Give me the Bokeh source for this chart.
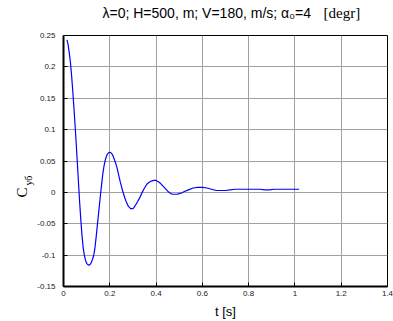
from bokeh.plotting import figure
from bokeh.models import Title, FixedTicker, Range1d
from bokeh.embed import file_html
from bokeh.resources import INLINE

# ---- data ----
t = [0.015, 0.020, 0.025, 0.030, 0.035, 0.040, 0.045, 0.050, 0.055, 0.060,
     0.065, 0.070, 0.075, 0.080, 0.085, 0.090, 0.095, 0.100, 0.105, 0.110,
     0.115, 0.120, 0.125, 0.130, 0.135, 0.140, 0.145, 0.150, 0.155, 0.160,
     0.165, 0.170, 0.175, 0.180, 0.185, 0.190, 0.195, 0.200, 0.205, 0.210,
     0.215, 0.220, 0.225, 0.230, 0.235, 0.240, 0.245, 0.250, 0.255, 0.260,
     0.265, 0.270, 0.275, 0.280, 0.285, 0.290, 0.295, 0.300, 0.305, 0.310,
     0.320, 0.330, 0.340, 0.350, 0.360, 0.370, 0.380, 0.390, 0.400, 0.410,
     0.420, 0.430, 0.440, 0.450, 0.460, 0.470, 0.480, 0.490, 0.500, 0.510,
     0.520, 0.540, 0.560, 0.580, 0.600, 0.620, 0.640, 0.660, 0.680, 0.700,
     0.720, 0.740, 0.780, 0.820, 0.850, 0.870, 0.890, 0.910, 0.950, 1.000,
     1.018]
cy = [0.243, 0.235, 0.222, 0.207, 0.186, 0.162, 0.135, 0.107, 0.077, 0.046,
      0.014, -0.017, -0.045, -0.069, -0.088, -0.100, -0.108, -0.113, -0.115, -0.116,
      -0.115, -0.112, -0.107, -0.101, -0.091, -0.075, -0.057, -0.039, -0.021, -0.003,
      0.014, 0.030, 0.042, 0.051, 0.057, 0.061, 0.063, 0.064, 0.063, 0.061,
      0.057, 0.052, 0.047, 0.041, 0.033, 0.025, 0.017, 0.010, 0.003, -0.003,
      -0.009, -0.014, -0.018, -0.022, -0.024, -0.026, -0.026, -0.026, -0.024, -0.021,
      -0.015, -0.008, 0.000, 0.007, 0.013, 0.016, 0.018, 0.019, 0.019, 0.017,
      0.014, 0.010, 0.006, 0.002, -0.001, -0.003, -0.003, -0.003, -0.002, -0.001,
      0.001, 0.004, 0.007, 0.008, 0.008, 0.007, 0.005, 0.003, 0.003, 0.003,
      0.004, 0.005, 0.005, 0.005, 0.005, 0.004, 0.004, 0.005, 0.005, 0.005,
      0.005]

x_ticks = [0, 0.2, 0.4, 0.6, 0.8, 1, 1.2, 1.4]
x_tick_labels = ["0", "0.2", "0.4", "0.6", "0.8", "1", "1.2", "1.4"]
y_ticks = [-0.15, -0.1, -0.05, 0, 0.05, 0.1, 0.15, 0.2, 0.25]
y_tick_labels = ["-0.15", "-0.1", "-0.05", "0", "0.05", "0.1", "0.15", "0.2", "0.25"]

title_main = "λ=0; H=500, m; V=180, m/s; α₀=4"
title_unit = "[degr]"
x_label = "t [s]"
y_label_main = "C"
y_label_sub = "уб"

SANS = "Liberation Sans"
SERIF = "Liberation Serif"

p = figure(width=393, height=321, output_backend="svg", toolbar_location=None,
           x_range=Range1d(0, 1.4), y_range=Range1d(-0.15, 0.25),
           min_border_left=63, min_border_right=6, min_border_top=35,
           min_border_bottom=34)
p.background_fill_color = "white"
p.border_fill_color = "white"
p.outline_line_color = "black"
p.outline_line_width = 1

p.line(t, cy, line_color="#0000ff", line_width=1.2)

p.xaxis.ticker = FixedTicker(ticks=x_ticks)
p.yaxis.ticker = FixedTicker(ticks=y_ticks)
p.xaxis.major_label_overrides = dict(zip(x_ticks, x_tick_labels))
p.yaxis.major_label_overrides = dict(zip(y_ticks, y_tick_labels))
for ax in (p.xaxis[0], p.yaxis[0]):
    ax.axis_line_color = "black"
    ax.axis_line_width = 2
    ax.major_tick_in = 4
    ax.major_tick_out = 0
    ax.major_tick_line_color = "black"
    ax.minor_tick_line_color = None
    ax.major_label_text_font = SANS
    ax.major_label_text_font_size = "8px"
    ax.major_label_text_color = "#222222"
p.xaxis.major_label_standoff = 4
p.yaxis.major_label_standoff = 8
p.xaxis.axis_label = x_label
p.xaxis.axis_label_text_font = SANS
p.xaxis.axis_label_text_font_size = "13px"
p.xaxis.axis_label_text_font_style = "normal"
p.xaxis.axis_label_text_color = "black"
p.xaxis.axis_label_standoff = 5

p.grid.grid_line_color = "#a0a0a0"
p.grid.grid_line_width = 1
p.grid.grid_line_alpha = 1


def side_title(text, side, size, font=SANS, standoff=0.0, offset=0.0,
               align="left", valign="bottom"):
    p.add_layout(Title(text=text, text_font=font, text_font_size=size,
                       text_font_style="normal", text_color="black",
                       standoff=standoff, offset=offset, align=align,
                       vertical_align=valign), side)


# title: spacer row next to the frame, then the text rows
side_title(" ", "above", "10px", standoff=2.2)
side_title(title_main, "above", "14px", standoff=0, offset=39)
side_title(title_unit, "above", "15px", font=SERIF, standoff=-37.8, offset=260)

# y label: C with subscript (rotated)
side_title(y_label_sub, "left", "10px", font=SERIF, standoff=-0.5, offset=101,
           align="left", valign="middle")
side_title(y_label_main, "left", "15px", font=SERIF, standoff=-18.7, offset=89,
           align="left", valign="middle")

open("out.html", "w").write(file_html(p, INLINE))
